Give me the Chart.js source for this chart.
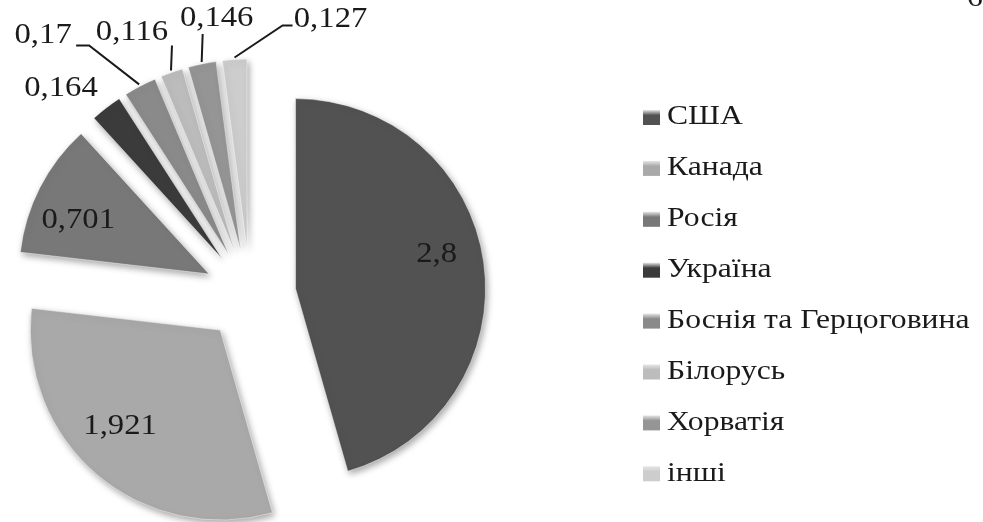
<!DOCTYPE html>
<html lang="uk">
<head>
<meta charset="utf-8">
<title>Країни</title>
<script src="https://cdn.jsdelivr.net/npm/chart.js@4.4.1/dist/chart.umd.min.js"></script>
<style>
  html, body { margin: 0; padding: 0; background: #ffffff; }
  canvas { display: block; }
</style>
</head>
<body>
<canvas id="chart" width="983" height="522"></canvas>
<script>
// Countries and their volumes
const countries = ['США', 'Канада', 'Росія', 'Україна', 'Боснія та Герцоговина', 'Білорусь', 'Хорватія', 'інші'];
const volumes = [2.8, 1.921, 0.701, 0.164, 0.17, 0.116, 0.146, 0.127];
const pageNumber = '6';

// Greyscale fill for each slice
const sliceColors = ['#525252', '#a9a9a9', '#787878', '#3b3b3b', '#8a8a8a', '#bcbcbc', '#959595', '#cdcdcd'];

// Where each value label sits: inside labels are nudged from 3/4 radius,
// outside labels are offset from the slice's outer edge (with optional leader line)
const labelPlacement = [
  { inside: true, dx: 0, dy: -15 },
  { inside: true, dx: -8, dy: -13 },
  { inside: true, dx: -4, dy: 11 },
  { dx: -44, dy: -10 },
  { dx: -96, dy: -41, leader: [[-50, -39], [-63, -39]] },
  { dx: -39, dy: -31, leader: [[1, -25]] },
  { dx: 15, dy: -36, leader: [[1, -28]] },
  { dx: 96, dy: -31, leader: [[48, -32], [58, -32]] }
];

const formatValue = v => String(v).replace('.', ',');

// Draws text slightly widened around its anchor point
function wideText(ctx, text, x, y, stretch) {
  ctx.save();
  ctx.translate(x, y);
  ctx.scale(stretch, 1);
  ctx.fillText(text, 0, 0);
  ctx.restore();
}

// Pulls every slice away from the centre along its bisector
const explodePlugin = {
  id: 'explode',
  afterDatasetUpdate(chart, args, opts) {
    args.meta.data.forEach(arc => {
      const mid = (arc.startAngle + arc.endAngle) / 2;
      arc.x += Math.cos(mid) * opts.distance;
      arc.y += Math.sin(mid) * opts.distance;
    });
  }
};

// Soft drop shadow under the slices
const shadowPlugin = {
  id: 'sliceShadow',
  beforeDatasetsDraw(chart) {
    const ctx = chart.ctx;
    ctx.save();
    ctx.shadowColor = 'rgba(0,0,0,0.35)';
    ctx.shadowBlur = 7;
    ctx.shadowOffsetX = 2;
    ctx.shadowOffsetY = 3;
  },
  afterDatasetsDraw(chart) {
    chart.ctx.restore();
  }
};

// Value labels with leader lines for the thin slices
const valueLabelPlugin = {
  id: 'valueLabels',
  afterDatasetsDraw(chart, args, opts) {
    const ctx = chart.ctx;
    const meta = chart.getDatasetMeta(0);
    const values = chart.data.datasets[0].data;
    ctx.save();
    ctx.font = opts.font;
    ctx.fillStyle = opts.color;
    ctx.strokeStyle = opts.color;
    ctx.lineWidth = 2;
    ctx.textAlign = 'center';
    meta.data.forEach((arc, i) => {
      const p = labelPlacement[i];
      const mid = (arc.startAngle + arc.endAngle) / 2;
      const cos = Math.cos(mid), sin = Math.sin(mid);
      const text = formatValue(values[i]);
      if (p.inside) {
        const r = arc.outerRadius * 0.75;
        ctx.textBaseline = 'middle';
        wideText(ctx, text, arc.x + cos * r + p.dx, arc.y + sin * r + p.dy, opts.stretch);
      } else {
        const ox = arc.x + cos * (arc.outerRadius + 2);
        const oy = arc.y + sin * (arc.outerRadius + 2);
        if (p.leader) {
          ctx.beginPath();
          ctx.moveTo(ox, oy);
          p.leader.forEach(([lx, ly]) => ctx.lineTo(ox + lx, oy + ly));
          ctx.stroke();
        }
        ctx.textBaseline = 'alphabetic';
        wideText(ctx, text, ox + p.dx, oy + p.dy, opts.stretch);
      }
    });
    ctx.restore();
  }
};

// Legend column on the right
const sideLegendPlugin = {
  id: 'sideLegend',
  afterDraw(chart, args, opts) {
    const ctx = chart.ctx;
    const colors = chart.data.datasets[0].backgroundColor;
    ctx.save();
    ctx.font = opts.font;
    ctx.textAlign = 'left';
    ctx.textBaseline = 'middle';
    chart.data.labels.forEach((label, i) => {
      const y = opts.top + i * opts.rowHeight;
      const g = ctx.createLinearGradient(opts.left, y - 7, opts.left, y + 8);
      g.addColorStop(0, '#e6e6e6');
      g.addColorStop(0.35, colors[i]);
      g.addColorStop(1, colors[i]);
      ctx.fillStyle = g;
      ctx.fillRect(opts.left, y - 7, opts.box, opts.box - 2);
      ctx.fillStyle = opts.color;
      wideText(ctx, label, opts.left + opts.box + 7, y, opts.stretch);
    });
    ctx.textAlign = 'center';
    ctx.textBaseline = 'alphabetic';
    wideText(ctx, pageNumber, chart.width - 8, 6, opts.stretch);
    ctx.restore();
  }
};

new Chart(document.getElementById('chart'), {
  type: 'pie',
  data: {
    labels: countries,
    datasets: [{
      data: volumes,
      backgroundColor: sliceColors,
      borderColor: 'rgba(255,255,255,0.45)',
      borderWidth: 1,
      radius: 190
    }]
  },
  options: {
    responsive: false,
    animation: false,
    devicePixelRatio: 1,
    layout: { padding: { top: 68, right: 483, bottom: 0, left: 0 } },
    events: [],
    plugins: {
      legend: { display: false },
      tooltip: { enabled: false },
      explode: { distance: 46 },
      valueLabels: {
        font: '30px "Liberation Serif", "Times New Roman", serif',
        color: '#1a1a1a',
        stretch: 1.09
      },
      sideLegend: {
        font: '28px "Liberation Serif", "Times New Roman", serif',
        color: '#1a1a1a',
        stretch: 1.13,
        left: 643,
        top: 117,
        rowHeight: 50.9,
        box: 17
      }
    }
  },
  plugins: [explodePlugin, shadowPlugin, valueLabelPlugin, sideLegendPlugin]
});
</script>
</body>
</html>
